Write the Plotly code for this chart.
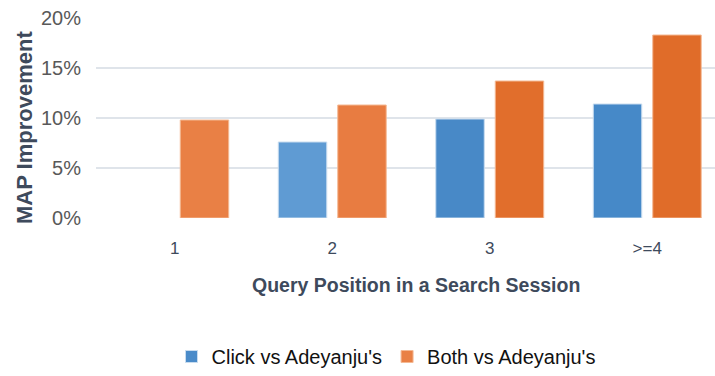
import plotly.graph_objects as go

# Query position buckets and MAP improvement (fraction) per method
positions = ["1", "2", "3", ">=4"]
click_vs_adeyanju = [None, 0.076, 0.099, 0.114]
both_vs_adeyanju = [0.098, 0.113, 0.137, 0.183]

series_names = ["Click vs Adeyanju's", "Both vs Adeyanju's"]

blue_fill = ["#4a8bc9", "#5f9bd3", "#4889c7", "#4689c8"]
orange_fill = ["#e98045", "#e87c41", "#e16e2c", "#e06c29"]

fig = go.Figure()
fig.add_trace(go.Bar(
    x=positions, y=click_vs_adeyanju, name=series_names[0],
    marker=dict(color=blue_fill, line=dict(color="#c8dcef", width=1)),
))
fig.add_trace(go.Bar(
    x=positions, y=both_vs_adeyanju, name=series_names[1],
    marker=dict(color=orange_fill, line=dict(color="#f4b994", width=1)),
))

W, H = 715, 376
left, top, bottom = 96, 18, 158
plot_w = W - left
plot_h = H - top - bottom

fig.update_layout(
    width=W, height=H,
    margin=dict(l=left, r=0, t=top, b=bottom, pad=0),
    paper_bgcolor="white", plot_bgcolor="white",
    barmode="group", bargap=0.245, bargroupgap=0.185,
    font=dict(family="Liberation Sans, Arial, sans-serif"),
    showlegend=True,
    legend=dict(
        orientation="h", x=(386 - left) / plot_w, xanchor="center", xref="paper",
        y=-(357 - 218) / plot_h, yanchor="middle",
        font=dict(size=20, color="#111111"),
        itemwidth=30, traceorder="normal",
    ),
    xaxis=dict(
        range=[-0.5, -0.5 + plot_w / 157.5],
        showgrid=False, showline=False, zeroline=False,
        ticks="", ticklabelstandoff=18,
        tickfont=dict(size=17, color="#3e4a5c"),
    ),
    yaxis=dict(
        range=[0, 0.2], dtick=0.05, tickformat=".0%",
        showgrid=True, gridcolor="#dfe4ea", gridwidth=2,
        showline=False, zeroline=False,
        ticks="", ticklabelstandoff=14,
        tickfont=dict(size=20, color="#595959"),
    ),
)

# Axis titles
fig.add_annotation(
    text="<b>Query Position in a Search Session</b>",
    xref="paper", yref="paper",
    x=(416 - left) / plot_w, y=-(285 - 218) / plot_h,
    xanchor="center", yanchor="middle", showarrow=False,
    font=dict(size=19.5, color="#3e4a5c"),
)
fig.add_annotation(
    text="<b>MAP Improvement</b>", textangle=-90,
    xref="paper", yref="paper",
    x=(24 - left) / plot_w, y=(218 - 128) / plot_h,
    xanchor="center", yanchor="middle", showarrow=False,
    font=dict(size=22, color="#3e4a5c"),
)

fig.write_html("out.html")
